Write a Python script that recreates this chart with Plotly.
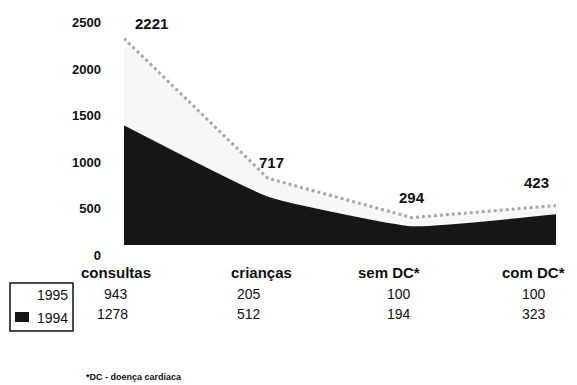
import plotly.graph_objects as go

# Categories and yearly counts (stacked: 1994 at the bottom, 1995 on top)
categories = ["consultas", "crianças", "sem DC*", "com DC*"]
values_1994 = [1278, 512, 194, 323]
values_1995 = [943, 205, 100, 100]
totals = [a + b for a, b in zip(values_1994, values_1995)]
y_ticks = [0, 500, 1000, 1500, 2000, 2500]
footnote = "*DC - doença cardiaca"

x_idx = list(range(len(categories)))
FONT = "Arial, Liberation Sans"

fig = go.Figure()

fig.add_trace(go.Scatter(
    x=x_idx, y=values_1994, name="1994", stackgroup="s",
    mode="lines", line=dict(color="#161616", width=1.5, shape="spline", smoothing=0.4),
    fillcolor="#161616", hoverinfo="skip",
))
fig.add_trace(go.Scatter(
    x=x_idx, y=values_1995, name="1995", stackgroup="s",
    mode="lines", line=dict(color="#a8a8a8", width=3, dash="dot"),
    fillcolor="#f7f7f7", hoverinfo="skip",
))

# pixel geometry of the plotting area
W, H = 577, 385
L, R, T, B = 124, 21, 3, 140
ph = H - T - B
pw = W - L - R


def py(pix):
    """paper y from a pixel row"""
    return (H - B - pix) / ph


def px(pix):
    """paper x from a pixel column"""
    return (pix - L) / pw


ann = []
# totals above the stacked outline
tot_shift = [(27, 15), (3, 16), (0, 20), (-20, 23)]
for i, t in enumerate(totals):
    dx, dy = tot_shift[i]
    ann.append(dict(x=i, y=t, text=str(t), showarrow=False, xshift=dx, yshift=dy,
                    font=dict(family=FONT, size=15, color="#111", weight="bold"),
                    xanchor="center", yanchor="middle"))

# category names under the axis
cat_shift = [-8, -7, -23, -23]
for i, c in enumerate(categories):
    ann.append(dict(x=i, y=py(272), yref="paper", text=c, showarrow=False,
                    xshift=cat_shift[i], xanchor="center", yanchor="middle",
                    font=dict(family=FONT, size=15, color="#111", weight="bold")))

# data table rows
col_right = [6, -5, 1, -8]
for row_vals, row_y in ((values_1995, 294), (values_1994, 314)):
    for i, v in enumerate(row_vals):
        ann.append(dict(x=i, y=py(row_y), yref="paper", text=str(v), showarrow=False,
                        xshift=col_right[i], xanchor="right", yanchor="middle",
                        font=dict(family=FONT, size=14, color="#111")))

# legend box labels
ann.append(dict(x=px(70), xref="paper", y=py(295), yref="paper",
                text="1995", showarrow=False, xanchor="right", yanchor="middle",
                font=dict(family=FONT, size=14, color="#111")))
ann.append(dict(x=px(70), xref="paper", y=py(318), yref="paper",
                text="1994", showarrow=False, xanchor="right", yanchor="middle",
                font=dict(family=FONT, size=14, color="#111")))
ann.append(dict(x=px(84), xref="paper", y=py(377), yref="paper",
                text=footnote, showarrow=False, xanchor="left", yanchor="middle",
                font=dict(family=FONT, size=9, color="#111", weight="bold")))

shapes = [
    dict(type="rect", xref="paper", yref="paper",
         x0=px(10), x1=px(73), y0=py(331), y1=py(283),
         line=dict(color="#111", width=1.5), fillcolor="rgba(0,0,0,0)"),
    dict(type="rect", xref="paper", yref="paper",
         x0=px(15), x1=px(29), y0=py(322), y1=py(312),
         line=dict(width=0), fillcolor="#161616"),
]

fig.update_layout(
    width=W, height=H, margin=dict(l=L, r=R, t=T, b=B),
    paper_bgcolor="white", plot_bgcolor="white", showlegend=False,
    annotations=ann, shapes=shapes,
    xaxis=dict(range=[0, 3], showgrid=False, zeroline=False, showticklabels=False,
               showline=False, fixedrange=True),
    yaxis=dict(range=[0, ph / 0.093], tickvals=y_ticks, showgrid=False, zeroline=False,
               showline=False, ticks="", ticklabelshift=10, ticklabelstandoff=22,
               tickfont=dict(family=FONT, size=13, color="#111", weight="bold")),
)

fig.write_html("out.html")
